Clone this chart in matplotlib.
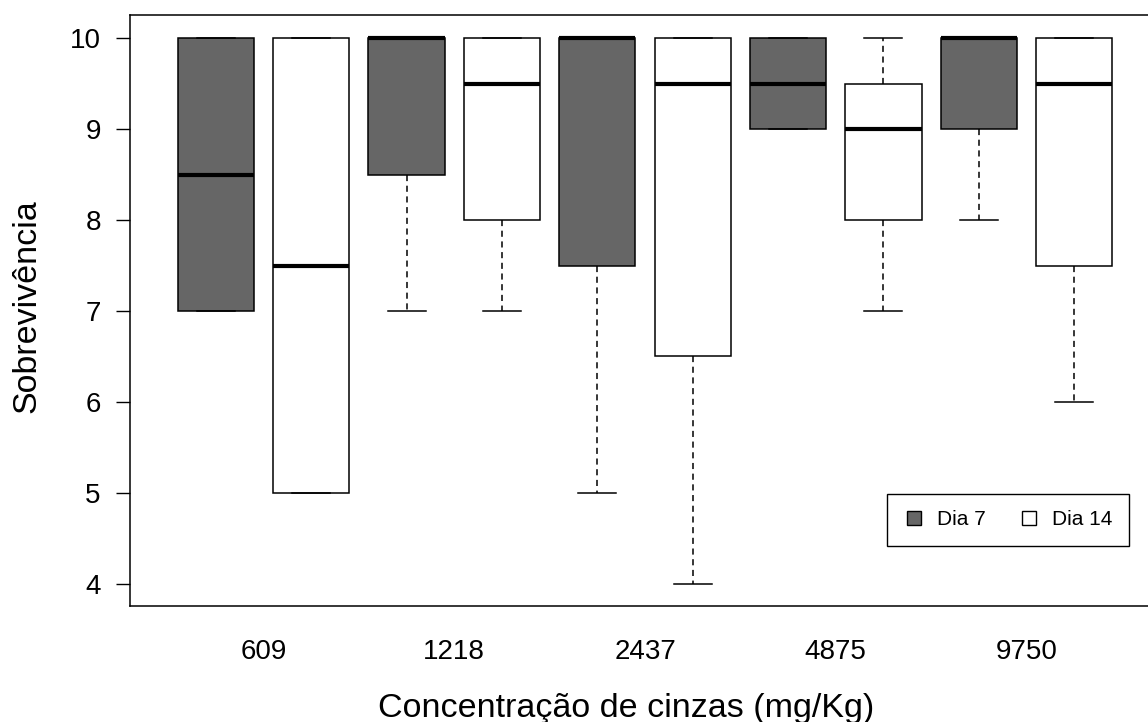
import matplotlib.pyplot as plt

plt.rcParams['font.family'] = ['Liberation Sans', 'DejaVu Sans']

# concentrations and the two sampling days
concs = ["609", "1218", "2437", "4875", "9750"]
days = ["Dia 7", "Dia 14"]

# five-number summaries, one list per day
# (lower whisker, Q1, median, Q3, upper whisker)
dia7 = [
    [7, 7, 8.5, 10, 10],
    [7, 8.5, 10, 10, 10],
    [5, 7.5, 10, 10, 10],
    [9, 9, 9.5, 10, 10],
    [8, 9, 10, 10, 10],
]
dia14 = [
    [5, 5, 7.5, 10, 10],
    [7, 8, 9.5, 10, 10],
    [4, 6.5, 9.5, 10, 10],
    [7, 8, 9, 9.5, 10],
    [6, 7.5, 9.5, 10, 10],
]

colors = ["#666666", "white"]

def make_stats(summary):
    lo, q1, med, q3, hi = summary
    return dict(whislo=lo, q1=q1, med=med, q3=q3, whishi=hi, fliers=[])

fig = plt.figure(figsize=(11.48, 7.22), dpi=100)
ax = fig.add_axes([130/1148, 116/722, 1030/1148, 591/722])

for d, (series, col) in enumerate(zip([dia7, dia14], colors)):
    stats = [make_stats(s) for s in series]
    pos = [1 + 2*i + d for i in range(len(series))]
    ax.bxp(stats, positions=pos, widths=0.8, capwidths=0.4,
           showfliers=False, patch_artist=True,
           boxprops=dict(facecolor=col, edgecolor="black", linewidth=1.1),
           medianprops=dict(color="black", linewidth=3, solid_capstyle="butt"),
           whiskerprops=dict(color="black", linewidth=1.1, linestyle=(0, (4, 3))),
           capprops=dict(color="black", linewidth=1.1))

ax.set_xlim(0.1, 10.9)
ax.set_ylim(3.758, 10.253)
ax.set_yticks(range(4, 11))
ax.set_xticks([1.5 + 2*i for i in range(len(concs))])
ax.set_xticklabels(concs)
ax.tick_params(axis="y", length=10, width=1, pad=11, labelsize=20)
ax.tick_params(axis="x", length=0, pad=24, labelsize=20)
for sp in ax.spines.values():
    sp.set_linewidth(1.1)

ax.set_ylabel("Sobrevivência", fontsize=24.5)
ax.set_xlabel("Concentração de cinzas (mg/Kg)", fontsize=24.5)
ax.xaxis.set_label_coords(0.4816, -0.147)
ax.yaxis.set_label_coords(-0.085, 0.507)

handles = [plt.Line2D([], [], marker="s", linestyle="none", markersize=10,
                      markerfacecolor=c, markeredgecolor="black") for c in colors]
ax.legend(handles, days, loc="lower right", bbox_to_anchor=(0.970, 0.1015),
          ncol=2, fontsize=15, frameon=True, fancybox=False, edgecolor="black",
          framealpha=1, handletextpad=0.6, columnspacing=1.6, borderpad=0.8,
          handlelength=1.0, borderaxespad=0)

fig.savefig("out.png", dpi=100)
